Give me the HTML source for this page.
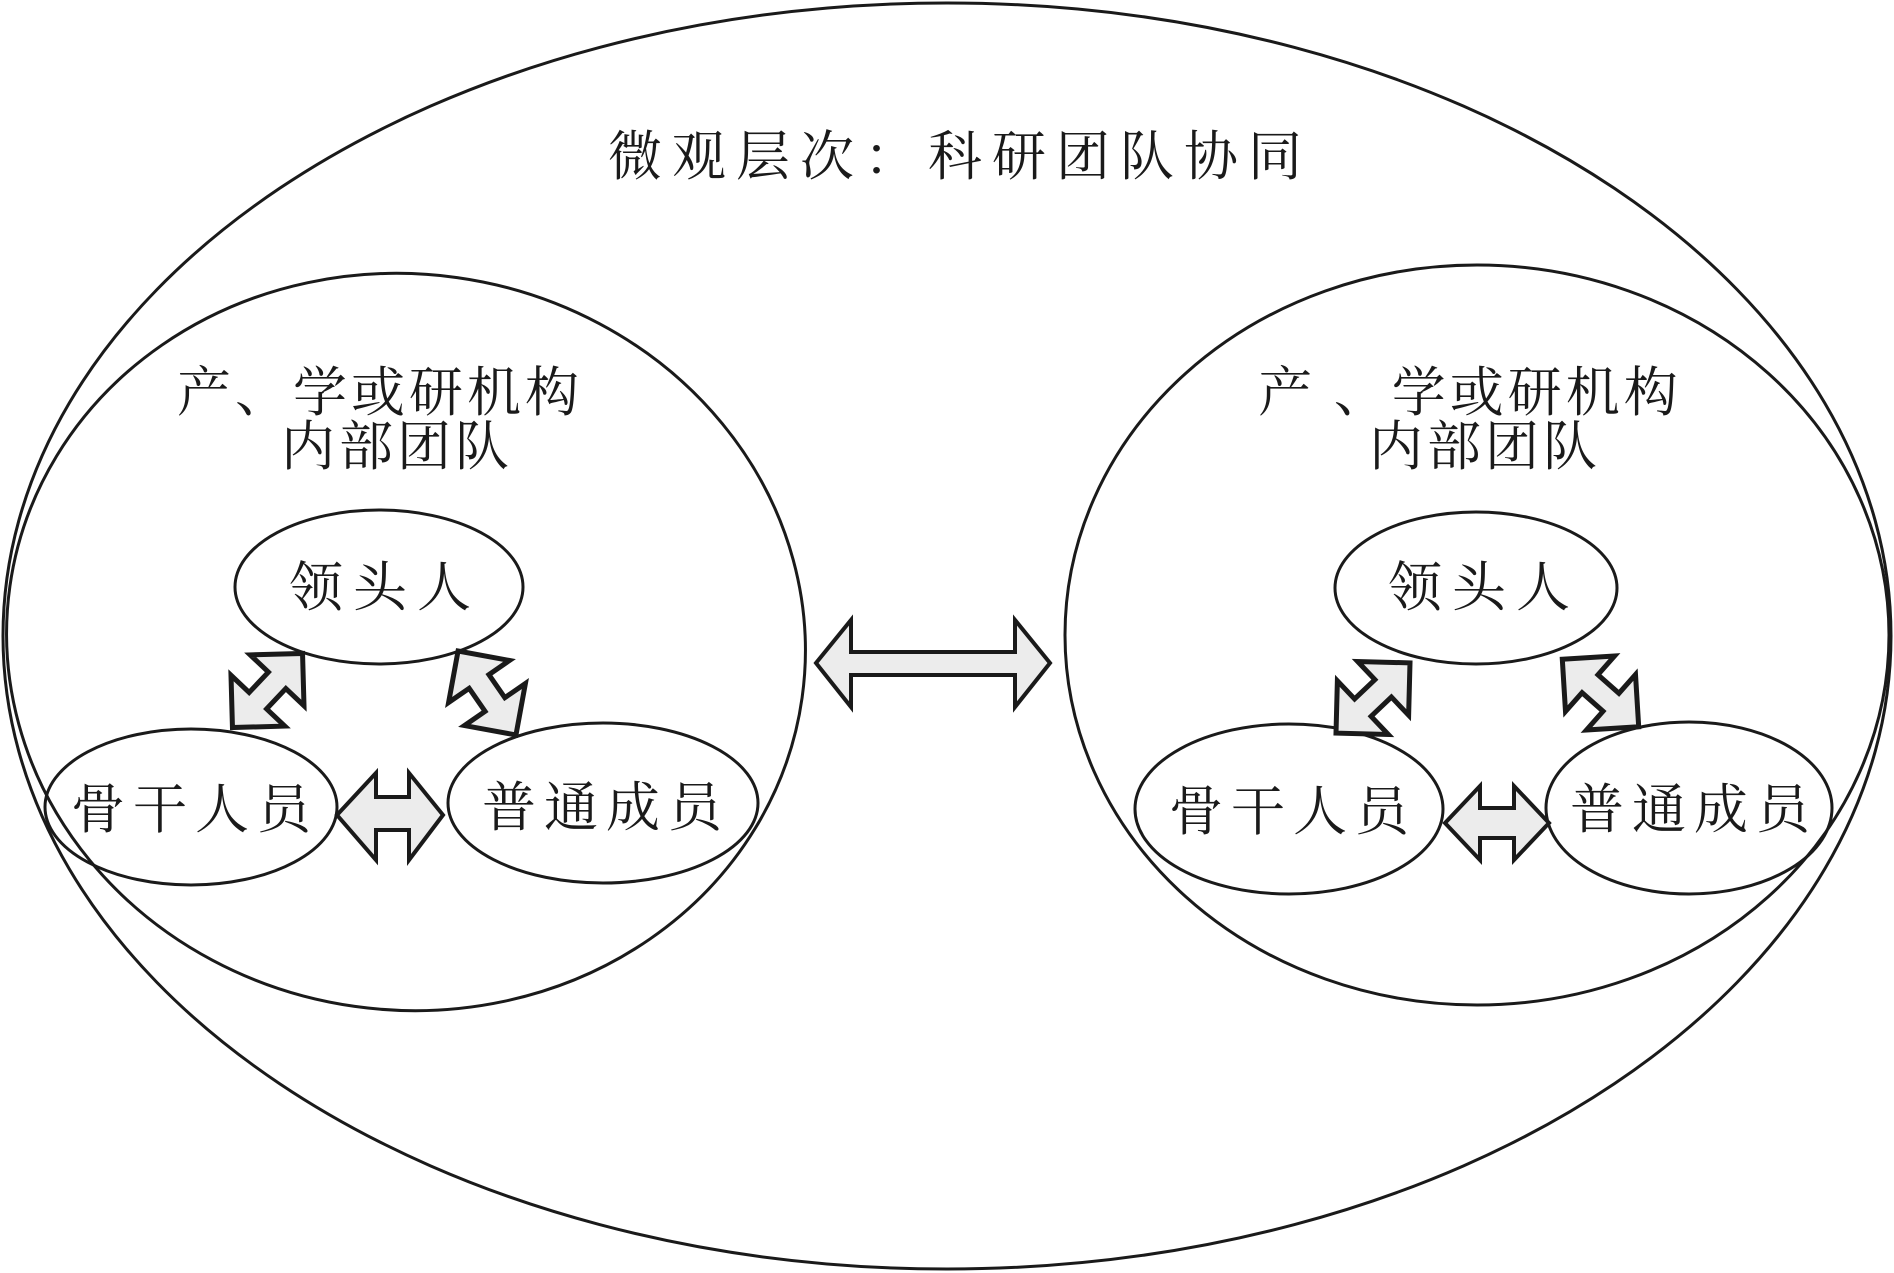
<!DOCTYPE html>
<html><head><meta charset="utf-8"><style>
html,body{margin:0;padding:0;background:#fff;}
svg{display:block;}
text{font-family:"Liberation Serif","Noto Serif CJK SC",serif;fill:#1a1a1a;text-anchor:middle;dominant-baseline:central;}
</style></head><body>
<svg width="1894" height="1273" viewBox="0 0 1894 1273" xmlns="http://www.w3.org/2000/svg">
<defs>
<polygon id="da" points="-51,0 -14,-37 -14,-12 14,-12 14,-37 51,0 14,37 14,12 -14,12 -14,37" fill="#ececec" stroke="#1a1a1a" stroke-width="5" stroke-linejoin="miter"/>
</defs>
<g fill="none" stroke="#1a1a1a" stroke-width="3">
<ellipse cx="947" cy="636" rx="944" ry="633"/>
<ellipse cx="406" cy="642" rx="400" ry="368" transform="rotate(8 406 642)"/>
<ellipse cx="1477" cy="635" rx="412" ry="370"/>
<ellipse cx="379" cy="587" rx="144" ry="77"/>
<ellipse cx="191" cy="807" rx="146" ry="78"/>
<ellipse cx="603" cy="803" rx="155" ry="80"/>
<ellipse cx="1476" cy="588" rx="141" ry="76"/>
<ellipse cx="1289" cy="809" rx="154" ry="85"/>
<ellipse cx="1689" cy="808" rx="143" ry="86"/>
</g>
<polygon points="816,663 851,620 851,652 1015,652 1015,620 1050,663 1015,707 1015,675 851,675 851,707" fill="#ececec" stroke="#1a1a1a" stroke-width="4"/>
<polygon points="337,815 376,773 376,797 409,797 409,773 443,815 409,860 409,830 376,830 376,860" fill="#ececec" stroke="#1a1a1a" stroke-width="4"/>
<polygon points="1445,823 1480,786 1480,808 1514,808 1514,786 1549,823 1514,860 1514,838 1480,838 1480,860" fill="#ececec" stroke="#1a1a1a" stroke-width="4"/>
<use href="#da" transform="translate(267.5,690.5) rotate(-46.6)"/>
<use href="#da" transform="translate(487,693) rotate(55.4)"/>
<use href="#da" transform="translate(1373,698) rotate(-43.5)"/>
<use href="#da" transform="translate(1600.5,693) rotate(41.5)"/>
<text x="960" y="157" font-size="54" letter-spacing="10">微观层次：科研团队协同</text>
<text x="380" y="393" font-size="54" letter-spacing="4">产、学或研机构</text>
<text x="397" y="447" font-size="54" letter-spacing="4">内部团队</text>
<text x="1470" y="393" font-size="54" letter-spacing="4">产 、学或研机构</text>
<text x="1485" y="447" font-size="54" letter-spacing="4">内部团队</text>
<text x="385" y="588" font-size="54" letter-spacing="10">领头人</text>
<text x="195" y="810" font-size="54" letter-spacing="8">骨干人员</text>
<text x="606" y="808" font-size="54" letter-spacing="8">普通成员</text>
<text x="1484" y="588" font-size="54" letter-spacing="10">领头人</text>
<text x="1293" y="812" font-size="54" letter-spacing="8">骨干人员</text>
<text x="1694" y="810" font-size="54" letter-spacing="8">普通成员</text>
</svg>
</body></html>
